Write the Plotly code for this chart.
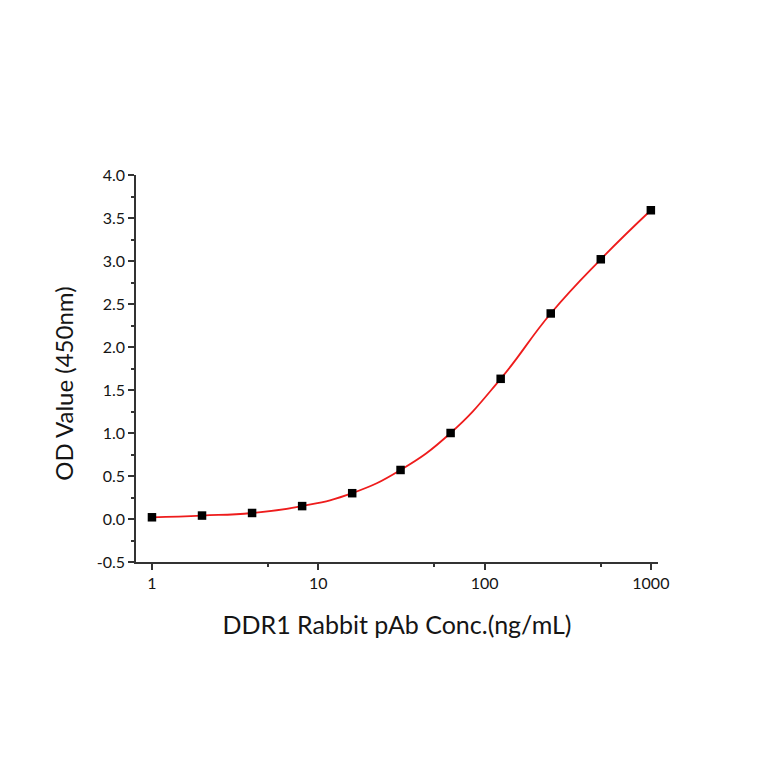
import plotly.graph_objects as go

# DDR1 Rabbit pAb ELISA standard curve
conc = [1, 2, 4, 8, 16, 31.25, 62.5, 125, 250, 500, 1000]
od = [0.02, 0.04, 0.07, 0.15, 0.30, 0.57, 1.00, 1.63, 2.39, 3.02, 3.59]

x_ticks = [1, 10, 100, 1000]
x_tick_text = ['1', '10', '100', '1000']
y_ticks = [-0.5, 0.0, 0.5, 1.0, 1.5, 2.0, 2.5, 3.0, 3.5, 4.0]
y_tick_text = ['-0.5', '0.0', '0.5', '1.0', '1.5', '2.0', '2.5', '3.0', '3.5', '4.0']

font_name = 'Lato'
ink = '#151515'

fig = go.Figure()

# fitted curve (smooth line through the points)
fig.add_trace(go.Scatter(
    x=conc, y=od, mode='lines',
    line=dict(color='#ee1c1c', width=1.8, shape='spline', smoothing=1.3),
    showlegend=False, hoverinfo='skip'
))

# measured points
fig.add_trace(go.Scatter(
    x=conc, y=od, mode='markers',
    marker=dict(color='black', size=8.5, symbol='square'),
    showlegend=False
))

fig.update_layout(
    width=764, height=764,
    margin=dict(l=128, r=114, t=167, b=210),
    paper_bgcolor='white', plot_bgcolor='white',
    font=dict(family=font_name, color=ink),
)

fig.update_xaxes(
    type='log', range=[-0.096, 3.043],
    tickvals=x_ticks, ticktext=x_tick_text,
    ticks='outside', ticklen=6, tickwidth=1.5, tickcolor='#333333',
    minor=dict(tickvals=[5, 50, 500], ticks='outside', ticklen=3, tickwidth=1.5, tickcolor='#333333'),
    showline=True, linecolor='#333333', linewidth=1.5,
    showgrid=False, zeroline=False,
    tickfont=dict(size=16, family=font_name, color=ink),
    title=dict(text='DDR1 Rabbit pAb Conc.(ng/mL)', font=dict(size=25, family=font_name, color=ink), standoff=26),
)

fig.update_yaxes(
    range=[-0.5, 4.0],
    tickvals=y_ticks, ticktext=y_tick_text,
    ticks='outside', ticklen=6, tickwidth=1.5, tickcolor='#333333',
    minor=dict(dtick=0.25, ticks='outside', ticklen=3, tickwidth=1.5, tickcolor='#333333'),
    showline=True, linecolor='#333333', linewidth=1.5,
    showgrid=False, zeroline=False,
    tickfont=dict(size=16, family=font_name, color=ink),
)

# y title sits a little below the plot centre in the original
fig.add_annotation(
    text='OD Value (450nm)', textangle=-90,
    xref='paper', yref='paper', x=-0.17, y=0.46,
    showarrow=False, font=dict(size=24, family=font_name, color=ink),
)

fig.write_html('out.html')
